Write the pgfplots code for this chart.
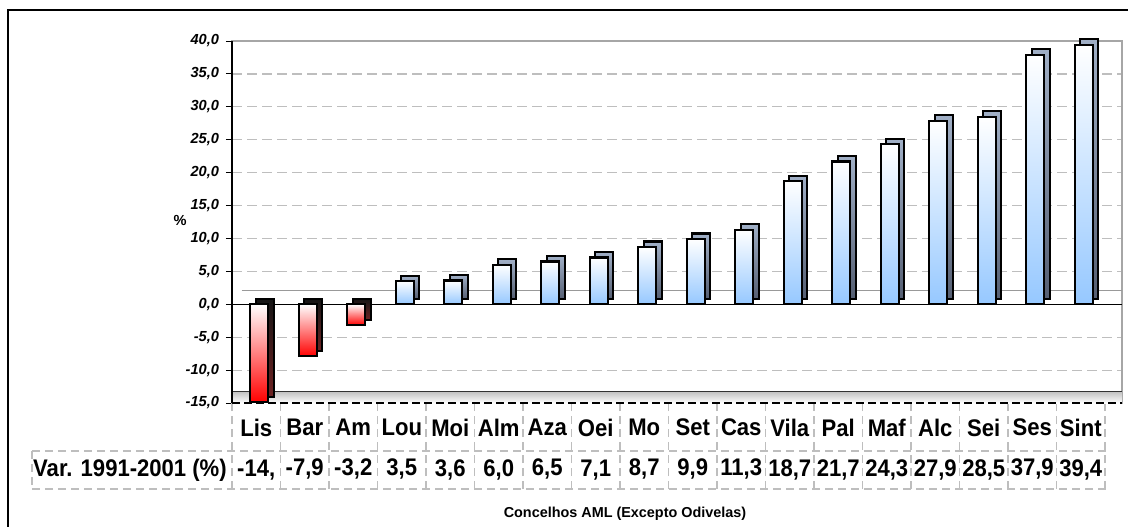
\documentclass[border=0pt]{standalone}
\usepackage{fontspec}
\setmainfont{Liberation Sans}
\newfontfamily\tablefont[FakeStretch=0.92]{Liberation Sans}
\usepackage{pgfplots}
\pgfplotsset{compat=1.18}

\definecolor{barblue}{RGB}{150,200,255}
\definecolor{barred}{RGB}{255,0,0}
\definecolor{sidebluetop}{RGB}{160,175,198}
\definecolor{sideblue}{RGB}{85,95,115}
\definecolor{sideredtop}{RGB}{20,20,20}
\definecolor{sidered}{RGB}{110,35,35}
\definecolor{gridgray}{RGB}{190,190,190}

% one 3-d looking column: x, value, front colour, depth top, depth bottom
\newcommand{\colbar}[5]{%
  \addplot[ybar, bar width=9pt, bar shift=4.3pt, yshift=2.8pt,
    draw=black, line width=1.1pt,
    shade, top color=#4, bottom color=#5] coordinates {(#1,#2)};
  \addplot[ybar, bar width=9pt, bar shift=1.5pt,
    draw=black, line width=1.1pt,
    shade, top color=white, bottom color=#3] coordinates {(#1,#2)};
}

\begin{document}
\begin{tikzpicture}
\useasboundingbox (-116pt,-61.5pt) rectangle (448pt,201.5pt);
\draw[line width=1pt] (-112pt,-70pt) -- (-112pt,196.5pt) -- (460pt,196.5pt);
\begin{axis}[
  at={(0pt,0pt)}, anchor=south west,
  scale only axis, width=445pt, height=181pt,
  xmin=-0.5, xmax=17.85, ymin=-15, ymax=40,
  ytick={-15,-10,...,40},
  xtick={0,...,17},
  xticklabels={{Lis\\-14,},{Bar\\-7,9},{Am\\-3,2},{Lou\\3,5},{Moi\\3,6},
    {Alm\\6,0},{Aza\\6,5},{Oei\\7,1},{Mo\\8,7},{Set\\9,9},{Cas\\11,3},
    {Vila\\18,7},{Pal\\21,7},{Maf\\24,3},{Alc\\27,9},{Sei\\28,5},
    {Ses\\37,9},{Sint\\39,4}},
  xtick pos=bottom, ytick pos=left,
  xtick style={draw=none},
  ytick style={draw=black, line width=0.5pt},
  tick align=outside, major tick length=3pt,
  xticklabel style={font=\tablefont\fontsize{12}{20}\selectfont\bfseries,
    align=center, yshift=-1.5pt},
  yticklabel style={font=\fontsize{7.3}{8}\selectfont\bfseries\itshape,
    /pgf/number format/.cd, fixed, fixed zerofill, precision=1,
    use comma, assume math mode=true},
  extra x ticks={-0.5,0.5,...,17.5},
  extra x tick labels={},
  extra x tick style={grid=none, major tick length=43pt,
    tick align=outside,
    xtick style={draw=gridgray, dash pattern=on 4pt off 2.5pt,
      line width=0.6pt}},
  ymajorgrids,
  major grid style={gridgray, dash pattern=on 5pt off 2.5pt, line width=0.6pt},
  axis line style={draw=gray!70, line width=0.6pt},
  clip=false,
]
% floor of the chart
\fill[top color=gray!50, bottom color=white]
  (axis cs:-0.5,-15) rectangle (axis cs:17.85,-13.2);
\draw[black!80, line width=0.5pt] (axis cs:-0.5,-13.2) -- (axis cs:17.85,-13.2);
% zero planes
\draw[gray!80, line width=0.8pt] (axis cs:-0.3,2.1) -- (axis cs:17.85,2.1);
\draw[black, line width=0.6pt] (axis cs:-0.5,0) -- (axis cs:17.85,0);

\colbar{0}{-14.9}{barred}{sideredtop}{sidered}
\colbar{1}{-7.9}{barred}{sideredtop}{sidered}
\colbar{2}{-3.2}{barred}{sideredtop}{sidered}
\colbar{3}{3.5}{barblue}{sidebluetop}{sideblue}
\colbar{4}{3.6}{barblue}{sidebluetop}{sideblue}
\colbar{5}{6.0}{barblue}{sidebluetop}{sideblue}
\colbar{6}{6.5}{barblue}{sidebluetop}{sideblue}
\colbar{7}{7.1}{barblue}{sidebluetop}{sideblue}
\colbar{8}{8.7}{barblue}{sidebluetop}{sideblue}
\colbar{9}{9.9}{barblue}{sidebluetop}{sideblue}
\colbar{10}{11.3}{barblue}{sidebluetop}{sideblue}
\colbar{11}{18.7}{barblue}{sidebluetop}{sideblue}
\colbar{12}{21.7}{barblue}{sidebluetop}{sideblue}
\colbar{13}{24.3}{barblue}{sidebluetop}{sideblue}
\colbar{14}{27.9}{barblue}{sidebluetop}{sideblue}
\colbar{15}{28.5}{barblue}{sidebluetop}{sideblue}
\colbar{16}{37.9}{barblue}{sidebluetop}{sideblue}
\colbar{17}{39.4}{barblue}{sidebluetop}{sideblue}

\draw[black, line width=0.6pt] (rel axis cs:0,0) -- (rel axis cs:0,1);
\draw[black, line width=0.6pt, dash pattern=on 4pt off 2pt]
  (rel axis cs:0,0) -- (rel axis cs:1,0);
\node[font=\fontsize{7.3}{8}\selectfont\bfseries]
  at (rel axis cs:0,0.503) [xshift=-26pt] {\%};
\end{axis}
% data table lines
\draw[gridgray, dash pattern=on 4pt off 2.5pt, line width=0.6pt]
  (-100pt,-24pt) -- (437pt,-24pt)
  (-100pt,-43pt) -- (437pt,-43pt)
  (-100pt,-24pt) -- (-100pt,-43pt);
\node[anchor=base, font=\tablefont\fontsize{12}{13}\selectfont\bfseries]
  at (-51pt,-36.5pt) {Var. 1991-2001 (\%)};
\node[font=\fontsize{7.2}{8}\selectfont\bfseries]
  at (196.5pt,-55.5pt) {Concelhos AML (Excepto Odivelas)};
\end{tikzpicture}
\end{document}
